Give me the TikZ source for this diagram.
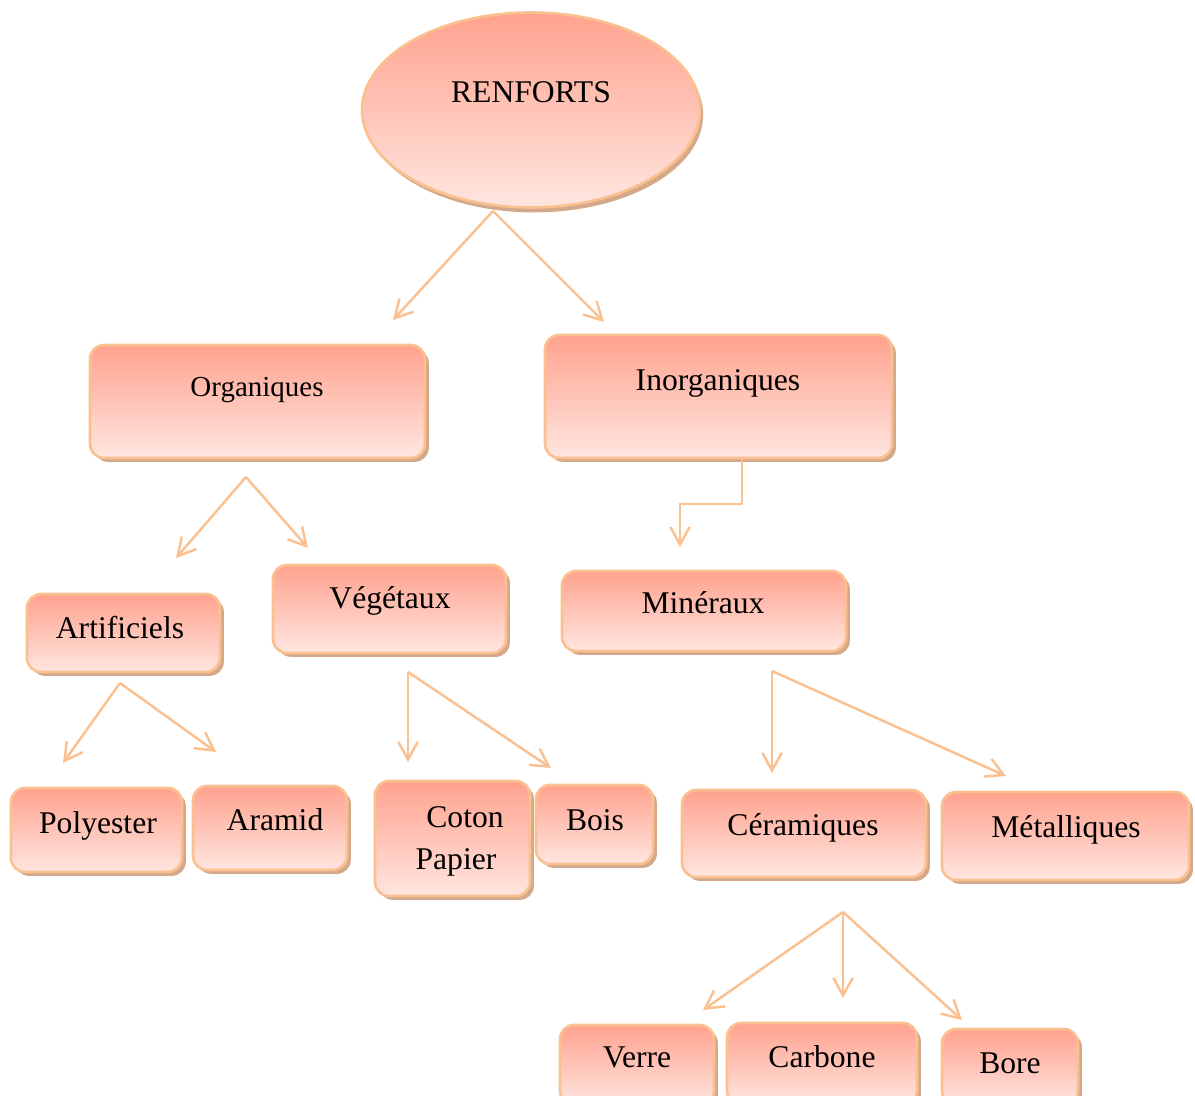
\documentclass[tikz,border=0pt]{standalone}
\usepackage{fontspec}
\setmainfont{Liberation Serif}
\usetikzlibrary{shapes.geometric,shadows,arrows.meta}

\definecolor{saumon}{HTML}{FFA28E}
\definecolor{rosepale}{HTML}{FFE6E0}
\definecolor{bordorange}{HTML}{FAC090}
\definecolor{ombre}{HTML}{D3A98A}

\tikzset{
  boite/.style={rectangle, rounded corners=8pt, draw=bordorange, line width=1.5pt,
    top color=saumon, bottom color=rosepale,
    drop shadow={shadow xshift=2.2pt, shadow yshift=-2.2pt, fill=ombre, opacity=1}},
  bulle/.style={ellipse, draw=bordorange, line width=1.5pt,
    top color=saumon, bottom color=rosepale,
    drop shadow={shadow xshift=1.8pt, shadow yshift=-2.8pt, fill=ombre, opacity=1}},
  txt/.style={anchor=base, inner sep=0pt, font=\fontsize{18}{24}\selectfont},
  fleche/.style={draw=bordorange, line width=1.4pt, -{Straight Barb[length=10pt,width=11pt]}}
}

\begin{document}
\begin{tikzpicture}[x=0.02cm, y=-0.02cm]
\clip (0,0) rectangle (1195,1095);

% niveau 0
\node[bulle, minimum width=6.76cm, minimum height=3.9cm] (renforts) at (531,110) {};
\node[txt] (renforts-t) at (531,102) {RENFORTS};

% niveau 1
\node[boite, minimum width=6.7cm, minimum height=2.26cm] (organ) at (257.5,401.5) {};
\node[txt, font=\fontsize{16.5}{20}\selectfont] (organ-t) at (257,396) {Organiques};
\node[boite, minimum width=6.94cm, minimum height=2.46cm] (inorg) at (718.5,396.5) {};
\node[txt] (inorg-t) at (718,390) {Inorganiques};

% niveau 2
\node[boite, minimum width=3.86cm, minimum height=1.56cm] (artif) at (123.5,633) {};
\node[txt] (artif-t) at (120,638) {Artificiels};
\node[boite, minimum width=4.66cm, minimum height=1.76cm] (veget) at (389.5,609) {};
\node[txt] (veget-t) at (390,608) {Végétaux};
\node[boite, minimum width=5.68cm, minimum height=1.6cm] (miner) at (704,611) {};
\node[txt] (miner-t) at (703,613) {Minéraux};

% niveau 3
\node[boite, minimum width=3.42cm, minimum height=1.68cm] (polyest) at (96.5,830) {};
\node[txt] (polyest-t) at (98,833) {Polyester};
\node[boite, minimum width=3.08cm, minimum height=1.68cm] (aramid) at (270,828) {};
\node[txt] (aramid-t) at (275,830) {Aramid};
\node[boite, minimum width=3.1cm, minimum height=2.3cm] (coton) at (452.5,838.5) {};
\node[txt] (coton-t) at (465,827) {Coton};
\node[txt] (papier-t) at (456,869) {Papier};
\node[boite, minimum width=2.34cm, minimum height=1.58cm] (bois) at (594.5,824.5) {};
\node[txt] (bois-t) at (595,830) {Bois};
\node[boite, minimum width=4.88cm, minimum height=1.74cm] (ceram) at (804,833.5) {};
\node[txt] (ceram-t) at (803,835) {Céramiques};
\node[boite, minimum width=4.94cm, minimum height=1.76cm] (metal) at (1065.5,836) {};
\node[txt] (metal-t) at (1066,837) {Métalliques};

% niveau 4
\node[boite, minimum width=3.08cm, minimum height=1.6cm] (verre) at (637,1065) {};
\node[txt] (verre-t) at (637,1067) {Verre};
\node[boite, minimum width=3.8cm, minimum height=1.64cm] (carbone) at (822,1064) {};
\node[txt] (carbone-t) at (822,1067) {Carbone};
\node[boite, minimum width=2.72cm, minimum height=1.52cm] (bore) at (1010,1067) {};
\node[txt] (bore-t) at (1010,1073) {Bore};

% points de depart et d'arrivee des fleches
\coordinate (renforts-bas) at (493,211);
\coordinate (organ-haut) at (393,320);
\coordinate (inorg-haut) at (604,322);
\coordinate (organ-bas) at (246,477);
\coordinate (artif-haut) at (176,558);
\coordinate (veget-haut) at (308,548);
\coordinate (inorg-bas) at (742,458);
\coordinate (miner-haut) at (680,547);
\coordinate (artif-bas) at (120,683);
\coordinate (polyest-haut) at (63,763);
\coordinate (aramid-haut) at (216,752);
\coordinate (veget-bas) at (408,672);
\coordinate (coton-haut) at (408,762);
\coordinate (bois-haut) at (551,768);
\coordinate (miner-bas) at (772,671);
\coordinate (ceram-haut) at (772,773);
\coordinate (metal-haut) at (1006,776);
\coordinate (ceram-bas) at (843,912);
\coordinate (verre-haut) at (703,1010);
\coordinate (carbone-haut) at (843,998);
\coordinate (bore-haut) at (962,1020);

\draw[fleche] (renforts-bas) -- (organ-haut);
\draw[fleche] (renforts-bas) -- (inorg-haut);
\draw[fleche] (organ-bas) -- (artif-haut);
\draw[fleche] (organ-bas) -- (veget-haut);
\draw[fleche] (inorg-bas) -- ++(0,46) -| (miner-haut);
\draw[fleche] (artif-bas) -- (polyest-haut);
\draw[fleche] (artif-bas) -- (aramid-haut);
\draw[fleche] (veget-bas) -- (coton-haut);
\draw[fleche] (veget-bas) -- (bois-haut);
\draw[fleche] (miner-bas) -- (ceram-haut);
\draw[fleche] (miner-bas) -- (metal-haut);
\draw[fleche] (ceram-bas) -- (verre-haut);
\draw[fleche] (ceram-bas) -- (carbone-haut);
\draw[fleche] (ceram-bas) -- (bore-haut);
\end{tikzpicture}
\end{document}
